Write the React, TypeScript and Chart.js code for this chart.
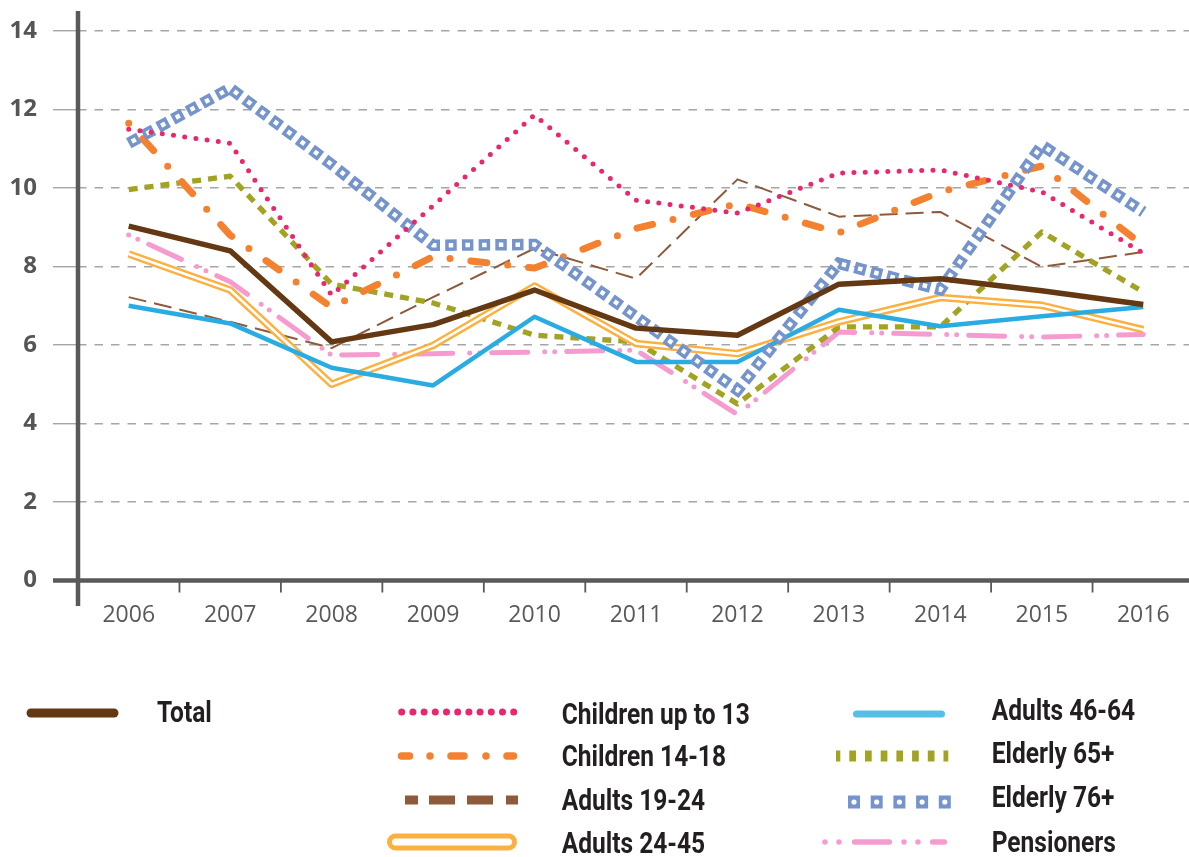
import React, { useEffect, useRef } from "react";
import { Chart, registerables } from "chart.js";

Chart.register(...registerables);

const years = ["2006", "2007", "2008", "2009", "2010", "2011", "2012", "2013", "2014", "2015", "2016"];
const total = [9.03, 8.4, 6.08, 6.52, 7.4, 6.43, 6.25, 7.55, 7.69, 7.38, 7.03];
const childrenUpTo13 = [11.5, 11.14, 7.27, 9.55, 11.86, 9.69, 9.36, 10.38, 10.46, 9.9, 8.34];
const children14to18 = [11.65, 8.8, 6.96, 8.25, 7.96, 8.97, 9.6, 8.86, 9.9, 10.56, 8.53];
const adults19to24 = [7.22, 6.59, 5.92, 7.22, 8.46, 7.69, 10.22, 9.27, 9.39, 7.99, 8.37];
const adults24to45 = [8.32, 7.4, 5.0, 5.99, 7.5, 6.04, 5.78, 6.59, 7.21, 7.01, 6.39];
const adults46to64 = [7.0, 6.55, 5.42, 4.97, 6.72, 5.57, 5.57, 6.9, 6.48, 6.73, 6.97];
const elderly65 = [9.96, 10.3, 7.55, 7.07, 6.25, 6.08, 4.5, 6.46, 6.46, 8.88, 7.35];
const elderly76 = [11.14, 12.54, 10.6, 8.54, 8.56, 6.72, 4.85, 8.08, 7.41, 11.09, 9.39];
const pensioners = [8.8, 7.61, 5.74, 5.78, 5.82, 5.87, 4.23, 6.33, 6.27, 6.2, 6.27];
const yMin = 0;
const yMax = 14;
const yStep = 2;

const seriesLabels = [
  "Total",
  "Children up to 13",
  "Children 14-18",
  "Adults 19-24",
  "Adults 24-45",
  "Adults 46-64",
  "Elderly 65+",
  "Elderly 76+",
  "Pensioners",
];

const C = {
  total: "#633813",
  c13: "#e8276f",
  c14: "#f4812f",
  a19: "#8d5b3c",
  a24: "#fbb040",
  a46: "#2aace2",
  a46legend: "#55bfe8",
  e65: "#a2a323",
  e76: "#7594cc",
  pens: "#f59bcf",
  axis: "#58595b",
  text: "#231f20",
};

const FONT = '"Open Sans", "Noto Sans", sans-serif';
const W = 1194;
const H = 857;

const axesPlugin = {
  id: "customAxes",
  afterDraw(chart: any) {
    const { ctx, chartArea: ca } = chart;
    const xs = chart.scales.x;
    ctx.save();
    ctx.strokeStyle = C.axis;
    ctx.lineCap = "butt";
    ctx.setLineDash([]);
    ctx.lineWidth = 4.5;
    ctx.beginPath();
    ctx.moveTo(53, ca.bottom);
    ctx.lineTo(chart.width, ca.bottom);
    ctx.stroke();
    ctx.beginPath();
    ctx.moveTo(ca.left, 11);
    ctx.lineTo(ca.left, 606);
    ctx.stroke();
    ctx.lineWidth = 1.8;
    for (let i = 1; i < years.length; i++) {
      const x = (xs.getPixelForValue(i - 1) + xs.getPixelForValue(i)) / 2;
      ctx.beginPath();
      ctx.moveTo(x, ca.bottom);
      ctx.lineTo(x, ca.bottom + 12);
      ctx.stroke();
    }
    ctx.restore();
  },
};

function segs(ctx: any, color: string, width: number, cap: string, y: number, list: number[][]) {
  ctx.save();
  ctx.strokeStyle = color;
  ctx.lineWidth = width;
  ctx.lineCap = cap;
  ctx.setLineDash([]);
  for (const [a, b] of list) {
    ctx.beginPath();
    ctx.moveTo(a, y);
    ctx.lineTo(b + (a === b ? 0.01 : 0), y);
    ctx.stroke();
  }
  ctx.restore();
}

const legendPlugin = {
  id: "customLegend",
  afterDraw(chart: any) {
    const ctx = chart.ctx;
    segs(ctx, C.total, 9, "round", 713, [[31, 114]]);
    ctx.save();
    ctx.strokeStyle = C.c13;
    ctx.lineWidth = 7;
    ctx.lineCap = "round";
    ctx.setLineDash([0, 11.2]);
    ctx.beginPath();
    ctx.moveTo(401.7, 712);
    ctx.lineTo(514, 712);
    ctx.stroke();
    ctx.restore();
    segs(ctx, C.c14, 7.5, "round", 756, [[401.5, 409.5], [430, 430], [451, 464], [486, 486], [507, 513.5]]);
    segs(ctx, C.a19, 9, "butt", 800, [[405, 418], [429, 455], [467, 493], [506, 518]]);
    segs(ctx, C.a24, 17, "round", 842, [[395.5, 508.5]]);
    segs(ctx, "#ffffff", 7, "round", 842, [[395.5, 508.5]]);
    segs(ctx, C.a46legend, 7, "round", 714, [[856.5, 941.5]]);
    ctx.save();
    ctx.strokeStyle = C.e65;
    ctx.lineWidth = 11;
    ctx.lineCap = "butt";
    ctx.setLineDash([6.7, 9]);
    ctx.lineDashOffset = 2.4;
    ctx.beginPath();
    ctx.moveTo(836, 756);
    ctx.lineTo(948.3, 756);
    ctx.stroke();
    ctx.restore();
    ctx.save();
    for (let k = 0; k < 5; k++) {
      const cx = 854 + k * 22.7;
      ctx.fillStyle = C.e76;
      ctx.fillRect(cx - 6, 802 - 6.5, 12, 13);
      ctx.fillStyle = "#ffffff";
      ctx.beginPath();
      ctx.arc(cx, 802, 2.6, 0, Math.PI * 2);
      ctx.fill();
    }
    ctx.restore();
    segs(ctx, C.pens, 5.5, "round", 842, [[825, 825], [839, 839], [854.7, 889.3], [904, 904], [918, 918], [932.7, 944.3]]);

    ctx.save();
    ctx.fillStyle = C.text;
    ctx.font = "bold 30px Roboto";
    ctx.textAlign = "left";
    ctx.textBaseline = "alphabetic";
    const sx = 188 / ctx.measureText(seriesLabels[1]).width;
    const items: [string, number, number][] = [
      [seriesLabels[0], 157, 722],
      [seriesLabels[1], 561.7, 724],
      [seriesLabels[2], 561.7, 766],
      [seriesLabels[3], 561.7, 810],
      [seriesLabels[4], 561.7, 853],
      [seriesLabels[5], 991.7, 720],
      [seriesLabels[6], 991.7, 763],
      [seriesLabels[7], 991.7, 807],
      [seriesLabels[8], 991.7, 852],
    ];
    for (const [t, x, y] of items) {
      ctx.save();
      ctx.translate(x, y);
      ctx.scale(sx, 1);
      ctx.fillText(t, 0, 0);
      ctx.restore();
    }
    ctx.restore();
  },
};

export default function App() {
  const ref = useRef<HTMLCanvasElement | null>(null);
  useEffect(() => {
    document.documentElement.style.overflow = "hidden";
    document.body.style.overflow = "hidden";
    const canvas = ref.current;
    if (!canvas) return;
    const line = (label: string, data: number[], extra: any) => ({
      label,
      data,
      fill: false,
      pointRadius: 0,
      pointHoverRadius: 0,
      tension: 0,
      borderJoinStyle: "round",
      ...extra,
    });
    const chart = new Chart(canvas, {
      type: "line",
      data: {
        labels: years,
        datasets: [
          line(seriesLabels[0], total, { borderColor: C.total, borderWidth: 5.5, order: 0 }),
          line(seriesLabels[1], childrenUpTo13, {
            borderColor: C.c13, borderWidth: 5, borderDash: [0, 11.3], borderCapStyle: "round", order: 1,
          }),
          line(seriesLabels[7] + " inner", elderly76, {
            borderColor: "#ffffff", borderWidth: 4.5, borderDash: [4.5, 12.2], borderDashOffset: -3.5,
            borderCapStyle: "butt", borderJoinStyle: "miter", order: 2,
          }),
          line(seriesLabels[7], elderly76, {
            borderColor: C.e76, borderWidth: 11.5, borderDash: [11.5, 5.2], borderCapStyle: "butt",
            borderJoinStyle: "miter", order: 3,
          }),
          line(seriesLabels[2], children14to18, {
            borderColor: C.c14, borderWidth: 7, borderDash: [0, 21, 16, 21], borderCapStyle: "round", order: 4,
          }),
          line(seriesLabels[5], adults46to64, { borderColor: C.a46, borderWidth: 4.5, order: 5 }),
          line(seriesLabels[4] + " inner", adults24to45, { borderColor: "#ffffff", borderWidth: 2.6, order: 6 }),
          line(seriesLabels[4], adults24to45, { borderColor: C.a24, borderWidth: 7.5, order: 7 }),
          line(seriesLabels[6], elderly65, {
            borderColor: C.e65, borderWidth: 5.3, borderDash: [9, 7], borderCapStyle: "butt", order: 8,
          }),
          line(seriesLabels[8], pensioners, {
            borderColor: C.pens, borderWidth: 5, borderDash: [0, 10, 0, 12, 36, 17], borderCapStyle: "round", order: 9,
          }),
          line(seriesLabels[3], adults19to24, {
            borderColor: C.a19, borderWidth: 2, borderDash: [18, 8], borderCapStyle: "butt", order: 10,
          }),
        ],
      },
      options: {
        responsive: false,
        animation: false,
        devicePixelRatio: 1,
        layout: { padding: { top: 31, left: 0, right: 0, bottom: 0 } },
        plugins: { legend: { display: false }, tooltip: { enabled: false }, title: { display: false } },
        scales: {
          x: {
            type: "category",
            offset: true,
            grid: { display: false },
            border: { display: false },
            ticks: {
              color: "#595959",
              font: { family: FONT, size: 23 },
              padding: 13,
              maxRotation: 0,
              autoSkip: false,
            },
            afterFit: (s: any) => {
              s.height = H - 580.5;
            },
          },
          y: {
            min: yMin,
            max: yMax,
            ticks: {
              stepSize: yStep,
              color: "#555555",
              font: { family: FONT, size: 24, weight: "bold" },
              padding: 16,
            },
            grid: { color: "#a6a6a6", lineWidth: 1.4, tickLength: 25, drawTicks: true },
            border: { display: false, dash: [8.5, 8] },
            afterFit: (s: any) => {
              s.width = 78;
            },
          },
        },
      } as any,
      plugins: [axesPlugin, legendPlugin],
    });
    return () => chart.destroy();
  }, []);
  return (
    <div style={{ position: "absolute", left: 0, top: 0, width: 1189, height: H, overflow: "hidden", background: "#fff" }}>
      <canvas ref={ref} width={W} height={H} style={{ display: "block", width: W, height: H }} />
    </div>
  );
}
